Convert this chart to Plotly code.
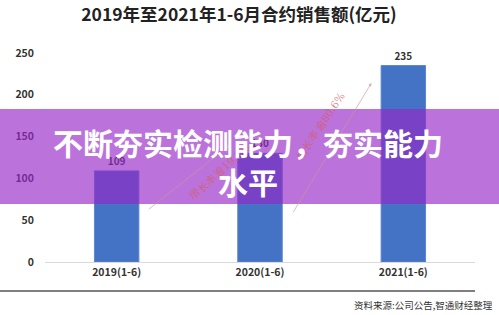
import plotly.graph_objects as go

categories = ["2019(1-6)", "2020(1-6)", "2021(1-6)"]
sales = [109, 130, 235]
growth_labels = ["增长率逾19.3%", "增长率逾80.6%"]
y_ticks = [0, 50, 100, 150, 200, 250]
title_text = "2019年至2021年1-6月合约销售额(亿元)"
overlay_text = "不断夯实检测能力，夯实能力<br>水平"
source_text = "资料来源:公司公告,智通财经整理"

CJK = "Noto Sans CJK SC"

fig = go.Figure()
fig.add_trace(go.Bar(
    x=categories, y=sales,
    marker=dict(color="#4472c4", line=dict(color="#5b86cf", width=1)),
    text=[str(v) for v in sales], textposition="outside",
    textfont=dict(family=CJK, size=10, color="#333333", weight="bold"),
    cliponaxis=False,
))

fig.update_layout(
    width=499, height=315,
    margin=dict(l=45, r=24, t=53, b=53),
    paper_bgcolor="white", plot_bgcolor="white",
    bargap=0.69,
    showlegend=False,
    title=dict(text=title_text, x=0.479, xanchor="center", y=0.952, yanchor="middle",
               font=dict(family=CJK, size=17.5, color="#222222", weight="bold")),
    xaxis=dict(showline=True, linecolor="#d9d9d9", linewidth=1, ticks="",
               tickfont=dict(family=CJK, size=10.5, color="#333333", weight="bold"),
               showgrid=False),
    yaxis=dict(range=[0, 250], tickvals=y_ticks, showgrid=False, zeroline=False,
               showline=False, ticklabelstandoff=10,
               tickfont=dict(family=CJK, size=10.5, color="#333333", weight="bold")),
)

# growth arrows (decorative)
fig.add_annotation(x=0.79, y=140, ax=0.216, ay=62, xref="x", yref="y", axref="x", ayref="y",
                   text="", showarrow=True, arrowhead=2, arrowsize=0.8, arrowwidth=0.8,
                   arrowcolor="rgba(210,150,150,0.8)")
fig.add_annotation(x=1.777, y=214, ax=1.226, ay=58, xref="x", yref="y", axref="x", ayref="y",
                   text="", showarrow=True, arrowhead=2, arrowsize=0.8, arrowwidth=0.8,
                   arrowcolor="rgba(210,150,150,0.8)")
fig.add_annotation(x=(183 - 45) / 430, y=(262 - 172) / 209, xref="paper", yref="paper",
                   text=growth_labels[0], showarrow=False, textangle=-42,
                   font=dict(family="DejaVu Serif", size=10.5, color="rgba(215,90,100,0.75)"))
fig.add_annotation(x=(320 - 45) / 430, y=(262 - 126) / 209, xref="paper", yref="paper",
                   text=growth_labels[1], showarrow=False, textangle=-56,
                   font=dict(family="DejaVu Serif", size=10.5, color="rgba(215,90,100,0.75)"))

# purple overlay band
fig.add_shape(type="rect", xref="paper", yref="paper",
              x0=-0.11, x1=1.06, y0=(262 - 204) / 209, y1=(262 - 109) / 209,
              fillcolor="rgba(150,40,200,0.65)", line=dict(width=0), layer="above")
fig.add_annotation(x=(248 - 45) / 430, y=(262 - 161.5) / 209, xref="paper", yref="paper",
                   text=overlay_text, showarrow=False, align="center",
                   font=dict(family=CJK, size=30, color="white", weight="bold"))

# separator line and source
fig.add_shape(type="line", xref="paper", yref="paper",
              x0=-0.11, x1=1.0, y0=(262 - 291) / 209, y1=(262 - 291) / 209,
              line=dict(color="#555555", width=1.5))
fig.add_annotation(x=450 / 430, y=(262 - 305) / 209, xref="paper", yref="paper",
                   xanchor="right", yanchor="middle", text=source_text, showarrow=False,
                   font=dict(family=CJK, size=9.5, color="#333333"))

fig.write_html("out.html")
